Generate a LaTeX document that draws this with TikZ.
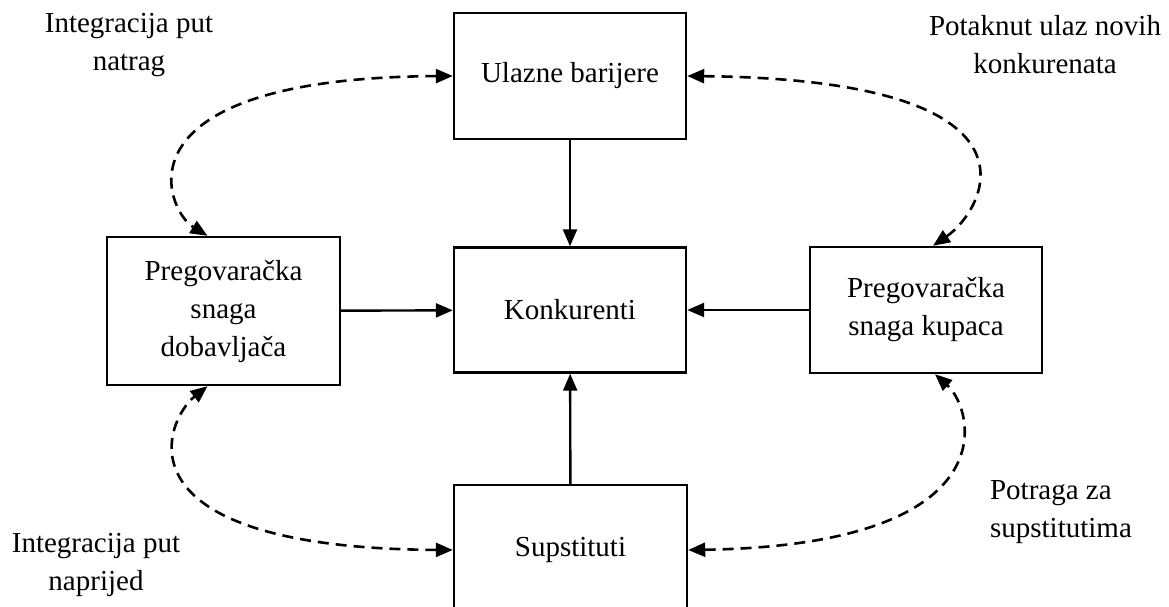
\documentclass[tikz,border=0pt]{standalone}
\usepackage{fontspec}
\setmainfont{Liberation Serif}
\usetikzlibrary{arrows.meta}
\begin{document}
\begin{tikzpicture}[x=1pt,y=-1pt,
  box/.style={draw, line width=2.4pt, inner sep=0pt, align=center, font=\fontsize{29}{38}\selectfont},
  lbl/.style={inner sep=0pt, font=\fontsize{29}{38}\selectfont},
  tip/.style={-{Triangle[length=17pt,width=14pt]}},
  solidarrow/.style={line width=2.4pt, tip},
  dasharrow/.style={line width=2.6pt, dash pattern=on 11pt off 7pt, {Triangle[length=17pt,width=14pt]}-{Triangle[length=17pt,width=14pt]}}]
\useasboundingbox (0,0) rectangle (1169,607);
\clip (0,0) rectangle (1169,607);
% boxes
\node[box, minimum width=232pt, minimum height=126pt] (ulaz) at (570,76) {Ulazne barijere};
\node[box, minimum width=232pt, minimum height=125pt] (konk) at (570,310) {Konkurenti};
\node[box, minimum width=233pt, minimum height=148pt] (dob) at (223.5,311) {Pregovaračka\\snaga\\dobavljača};
\node[box, minimum width=232pt, minimum height=126pt] (kup) at (926,310) {Pregovaračka\\snaga kupaca};
\node[box, minimum width=233pt, minimum height=130pt] (sup) at (570.5,550) {Supstituti};
% labels
\node[lbl, align=center] (l1) at (129,45) {Integracija put\\natrag};
\node[lbl, align=center] (l2) at (1045,45) {Potaknut ulaz novih\\konkurenata};
\node[lbl, align=center] (l3) at (96,565) {Integracija put\\naprijed};
\node[lbl, align=left] (l4) at (1061,512) {Potraga za\\supstitutima};
% solid arrows
\draw[solidarrow] (ulaz) -- (konk);
\draw[solidarrow] (dob) -- (konk);
\draw[solidarrow] (kup) -- (konk);
\draw[solidarrow] (sup) -- (konk);
% dashed curves
\draw[dasharrow] (ulaz.west) .. controls (110,78) and (165,210) .. ([xshift=-16pt]dob.north);
\draw[dasharrow] (ulaz.east) .. controls (1060,80) and (985,210) .. ([xshift=7pt]kup.north);
\draw[dasharrow] (sup.west) .. controls (110,548) and (165,420) .. ([xshift=-16pt]dob.south);
\draw[dasharrow] (sup.east) .. controls (1010,545) and (975,410) .. ([xshift=9pt]kup.south);
\end{tikzpicture}
\end{document}
